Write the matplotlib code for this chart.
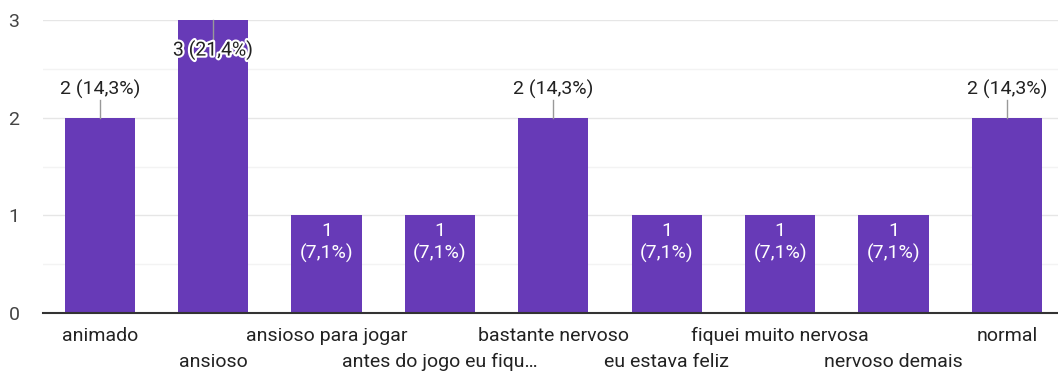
import matplotlib
matplotlib.use("Agg")
import matplotlib.pyplot as plt
import matplotlib.patheffects as pe

categories = ["animado", "ansioso", "ansioso para jogar", "antes do jogo eu fiqu…",
              "bastante nervoso", "eu estava feliz", "fiquei muito nervosa",
              "nervoso demais", "normal"]
counts = [2, 3, 1, 1, 2, 1, 1, 1, 2]
percents = ["14,3%", "21,4%", "7,1%", "7,1%", "14,3%", "7,1%", "7,1%", "7,1%", "14,3%"]
yticks = [0, 1, 2, 3]

plt.rcParams['font.family'] = ['Roboto', 'DejaVu Sans']
W, H = 1058, 372
FS = 14
fig = plt.figure(figsize=(W / 100, H / 100), dpi=100)
ax = fig.add_axes([43 / W, (H - 313) / H, (W - 43) / W, (313 - 20) / H])

bar_color = "#673ab7"
x = list(range(len(categories)))
ax.bar(x, counts, width=0.62, color=bar_color, zorder=3)

ax.set_xlim(-0.5, 8.45)
ax.set_ylim(0, 3)
ax.set_yticks(yticks)
ax.set_yticks([0.5, 1.5, 2.5], minor=True)
ax.yaxis.grid(True, which="major", color="#e6e6e6", lw=1, zorder=0)
ax.yaxis.grid(True, which="minor", color="#f3f3f3", lw=1, zorder=0)
for s in ["top", "right", "left"]:
    ax.spines[s].set_visible(False)
ax.spines["bottom"].set_color("#333333")
ax.spines["bottom"].set_linewidth(1.5)
ax.spines["bottom"].set_zorder(4)
ax.tick_params(axis="y", which="both", length=0, labelsize=FS, labelcolor="#444444", pad=17)
ax.tick_params(axis="x", length=0)
ax.set_xticks(x)
ax.set_xticklabels([""] * len(x))
for i, c in enumerate(categories):
    ax.annotate(c, xy=(i, 0), xycoords="data", xytext=(0, -23 if i % 2 == 0 else -49),
                textcoords="offset pixels", ha="center", va="center",
                fontsize=FS, color="#222222", annotation_clip=False)

halo = [pe.withStroke(linewidth=3, foreground="white")]
for i, (c, p) in enumerate(zip(counts, percents)):
    if c == 2:
        ax.plot([i, i], [c, c + 0.18], color="#999999", lw=1, zorder=4, clip_on=False)
        ax.text(i, c + 0.29, f"{c} ({p})", ha="center", va="center", fontsize=FS,
                color="#222222", zorder=5)
    elif c == 3:
        ax.plot([i, i], [c, c - 0.22], color="#999999", lw=1, zorder=4, clip_on=False)
        ax.text(i, c - 0.31, f"{c} ({p})", ha="center", va="center", fontsize=FS,
                color="#222222", zorder=5, path_effects=halo)
    else:
        ax.text(i, c - 0.16, f"{c}", ha="center", va="center", fontsize=FS,
                color="white", zorder=5)
        ax.text(i, c - 0.39, f"({p})", ha="center", va="center", fontsize=FS,
                color="white", zorder=5)

fig.savefig("out.png", dpi=100)
